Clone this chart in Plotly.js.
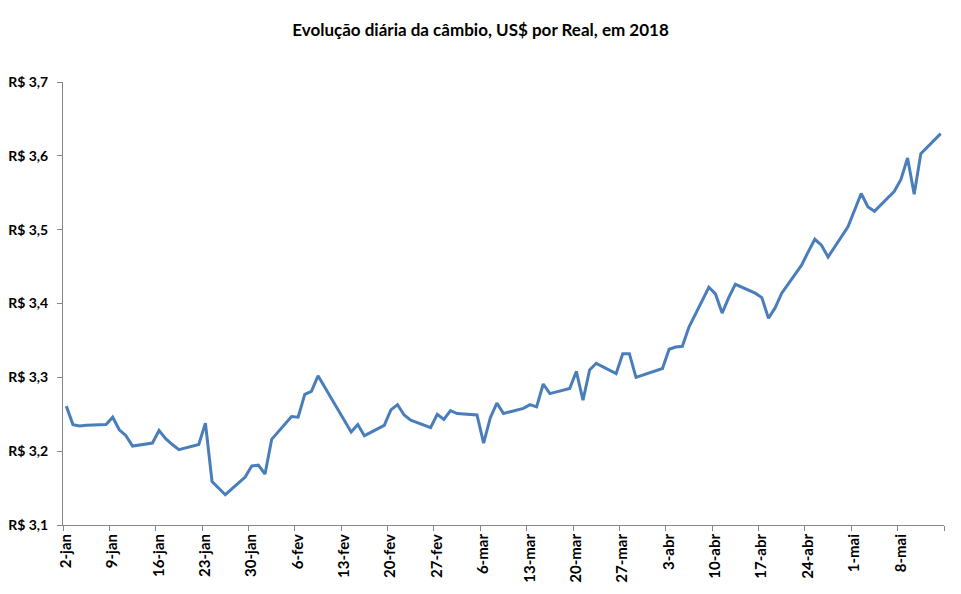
<!DOCTYPE html>
<html>
<head>
<meta charset="utf-8">
<script src="https://cdn.plot.ly/plotly-3.0.1.min.js"></script>
<style>
  html, body { margin: 0; padding: 0; background: #ffffff; }
  #chart { width: 961px; height: 594px; }
</style>
</head>
<body>
<div id="chart"></div>
<script>
// Trading days (PTAX) and the daily USD/BRL rate
const dates = [
  '2018-01-02','2018-01-03','2018-01-04','2018-01-05',
  '2018-01-08','2018-01-09','2018-01-10','2018-01-11','2018-01-12',
  '2018-01-15','2018-01-16','2018-01-17','2018-01-18','2018-01-19',
  '2018-01-22','2018-01-23','2018-01-24','2018-01-25','2018-01-26',
  '2018-01-29','2018-01-30','2018-01-31','2018-02-01','2018-02-02',
  '2018-02-05','2018-02-06','2018-02-07','2018-02-08','2018-02-09',
  '2018-02-14','2018-02-15','2018-02-16',
  '2018-02-19','2018-02-20','2018-02-21','2018-02-22','2018-02-23',
  '2018-02-26','2018-02-27','2018-02-28','2018-03-01','2018-03-02',
  '2018-03-05','2018-03-06','2018-03-07','2018-03-08','2018-03-09',
  '2018-03-12','2018-03-13','2018-03-14','2018-03-15','2018-03-16',
  '2018-03-19','2018-03-20','2018-03-21','2018-03-22','2018-03-23',
  '2018-03-26','2018-03-27','2018-03-28','2018-03-29',
  '2018-04-02','2018-04-03','2018-04-04','2018-04-05','2018-04-06',
  '2018-04-09','2018-04-10','2018-04-11','2018-04-12','2018-04-13',
  '2018-04-16','2018-04-17','2018-04-18','2018-04-19','2018-04-20',
  '2018-04-23','2018-04-24','2018-04-25','2018-04-26','2018-04-27',
  '2018-04-30','2018-05-02','2018-05-03','2018-05-04',
  '2018-05-07','2018-05-08','2018-05-09','2018-05-10','2018-05-11',
  '2018-05-14'
];

const rates = [
  3.261, 3.236, 3.234, 3.235,
  3.236, 3.246, 3.229, 3.221, 3.207,
  3.211, 3.228, 3.217, 3.209, 3.202,
  3.209, 3.238, 3.159, 3.150, 3.141,
  3.165, 3.180, 3.181, 3.169, 3.216,
  3.247, 3.246, 3.277, 3.281, 3.302,
  3.226, 3.236, 3.221,
  3.235, 3.256, 3.263, 3.249, 3.242,
  3.232, 3.250, 3.243, 3.255, 3.251,
  3.249, 3.211, 3.245, 3.265, 3.251,
  3.258, 3.263, 3.260, 3.291, 3.278,
  3.285, 3.308, 3.269, 3.310, 3.319,
  3.305, 3.332, 3.332, 3.300,
  3.312, 3.338, 3.341, 3.342, 3.368,
  3.422, 3.413, 3.387, 3.408, 3.426,
  3.414, 3.408, 3.380, 3.394, 3.414,
  3.452, 3.470, 3.487, 3.479, 3.463,
  3.504, 3.549, 3.531, 3.525,
  3.552, 3.568, 3.597, 3.548, 3.603,
  3.630
];

// Weekly axis labels
const tickDates = [
  '2018-01-02','2018-01-09','2018-01-16','2018-01-23','2018-01-30',
  '2018-02-06','2018-02-13','2018-02-20','2018-02-27',
  '2018-03-06','2018-03-13','2018-03-20','2018-03-27',
  '2018-04-03','2018-04-10','2018-04-17','2018-04-24',
  '2018-05-01','2018-05-08','2018-05-15'
];
const tickLabels = [
  '2-jan','9-jan','16-jan','23-jan','30-jan',
  '6-fev','13-fev','20-fev','27-fev',
  '6-mar','13-mar','20-mar','27-mar',
  '3-abr','10-abr','17-abr','24-abr',
  '1-mai','8-mai',''
];

const yTicks = [3.1, 3.2, 3.3, 3.4, 3.5, 3.6, 3.7];
const yTickLabels = ['R$ 3,1','R$ 3,2','R$ 3,3','R$ 3,4','R$ 3,5','R$ 3,6','R$ 3,7'];

// Each day occupies a slot; tick marks sit on the slot boundaries (midnight - 12h offset)
function dayStart(d) {
  const t = new Date(d + 'T00:00:00Z').getTime() - 12 * 3600 * 1000;
  return new Date(t).toISOString().replace('T', ' ').slice(0, 19);
}
const tickVals = tickDates.map(dayStart);

const FONT = 'Lato, "Open Sans", "DejaVu Sans", sans-serif';
const AXIS_GRAY = '#868686';

const trace = {
  x: dates,
  y: rates,
  type: 'scatter',
  mode: 'lines',
  line: { color: '#4A7EBB', width: 3 },
  hoverinfo: 'x+y'
};

const layout = {
  width: 961,
  height: 594,
  paper_bgcolor: '#ffffff',
  plot_bgcolor: '#ffffff',
  margin: { l: 63, r: 17, t: 82, b: 69 },
  showlegend: false,
  font: { family: FONT, color: '#000000' },
  title: {
    text: '<b>Evolução diária da câmbio, US$ por Real, em 2018</b>',
    font: { family: FONT, size: 17, color: '#000000' },
    x: 0.5,
    xanchor: 'center',
    y: 0.95,
    yanchor: 'middle'
  },
  xaxis: {
    type: 'date',
    range: [dayStart('2018-01-02'), dayStart('2018-05-15')],
    tickmode: 'array',
    tickvals: tickVals,
    ticktext: tickLabels.map(t => t ? '<b>' + t + '</b>' : ''),
    tickangle: -90,
    ticklabelshift: 3,
    ticklabelstandoff: -3,
    ticks: 'outside',
    ticklen: 5,
    tickcolor: AXIS_GRAY,
    tickwidth: 1,
    showline: true,
    linecolor: AXIS_GRAY,
    linewidth: 1,
    showgrid: false,
    zeroline: false,
    tickfont: { family: FONT, size: 15, color: '#000000' },
    fixedrange: true
  },
  yaxis: {
    range: [3.1, 3.7],
    tickmode: 'array',
    tickvals: yTicks,
    ticktext: yTickLabels.map(t => '<b>' + t + '</b>'),
    ticks: 'outside',
    ticklen: 5,
    ticklabelstandoff: 6,
    tickcolor: AXIS_GRAY,
    tickwidth: 1,
    showline: true,
    linecolor: AXIS_GRAY,
    linewidth: 1,
    showgrid: false,
    zeroline: false,
    tickfont: { family: FONT, size: 14, color: '#000000' },
    fixedrange: true
  }
};

Plotly.newPlot('chart', [trace], layout, { displayModeBar: false, staticPlot: true });
</script>
</body>
</html>
